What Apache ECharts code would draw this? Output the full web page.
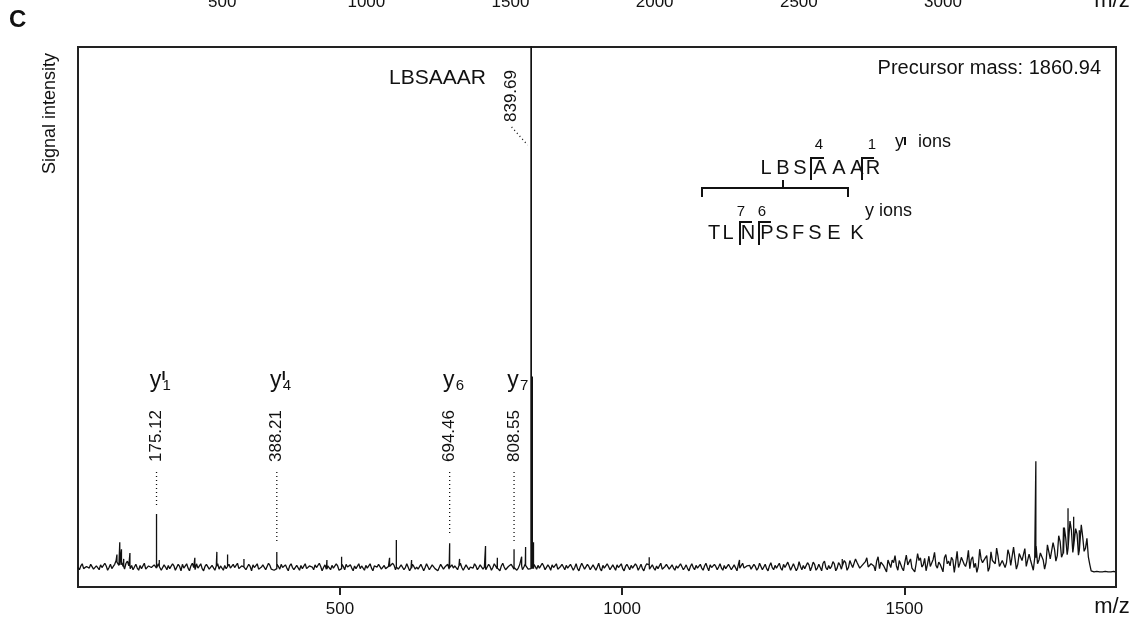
<!DOCTYPE html>
<html>
<head>
<meta charset="utf-8">
<script src="https://cdn.jsdelivr.net/npm/echarts@6/dist/echarts.min.js"></script>
<style>
html, body { margin: 0; padding: 0; background: #fff; }
#main { width: 1141px; height: 619px; }
</style>
</head>
<body>
<div id="main"></div>
<script>
// noise floor, read every 5 m/z starting at 36 (intensity in % of plot height)
const mzStart = 36
const mzStep = 5
const noise = [
    3.6,3.9,3.4,3.8,3.5,4.0,3.6,3.7,4.1,3.5,3.9,3.6,3.4,4.2,4.6,4.1,3.8,4.4,3.9,4.0,
    3.7,3.5,4.0,3.6,3.3,3.9,3.6,4.1,3.5,3.8,3.4,3.7,4.0,3.6,3.9,3.3,3.8,4.2,3.6,3.5,
    3.9,3.6,4.3,3.7,3.4,3.8,4.1,3.5,3.7,3.9,3.3,3.6,4.0,3.8,3.5,4.2,3.6,3.4,3.9,3.7,
    3.5,3.8,4.1,3.6,3.3,3.7,3.9,3.5,4.0,3.6,3.4,3.8,4.2,3.7,3.5,3.9,3.6,3.3,3.8,4.0,
    3.6,3.4,3.9,3.7,4.1,3.5,3.8,3.6,3.3,3.7,4.0,3.6,3.9,3.4,3.8,4.2,3.6,3.5,3.9,3.7,
    3.4,3.8,4.0,3.6,3.5,3.9,3.7,4.3,3.6,3.4,3.8,3.6,4.0,3.7,3.3,3.9,3.6,4.1,3.5,3.8,
    3.7,3.4,3.9,3.6,4.0,3.5,3.8,3.6,3.3,3.9,3.7,4.2,3.6,3.5,3.8,4.0,3.6,3.4,3.9,3.7,
    3.5,3.9,3.6,4.1,3.7,3.4,3.8,3.6,4.0,3.5,3.9,3.7,3.3,3.8,4.2,3.6,3.5,3.9,3.7,4.0,
    3.6,3.4,3.8,4.0,3.6,3.9,3.5,3.7,4.1,3.6,3.3,3.8,3.7,4.0,3.5,3.9,3.6,3.4,3.8,4.2,
    3.6,3.8,3.5,3.9,3.7,3.4,4.0,3.6,3.8,3.5,3.9,4.1,3.6,3.4,3.8,3.7,4.0,3.5,3.9,3.6,
    3.4,3.8,4.1,3.6,3.5,3.9,3.7,3.3,3.8,4.0,3.6,3.5,3.9,3.7,4.2,3.6,3.4,3.8,3.6,4.0,
    3.7,3.5,3.9,3.6,4.1,3.4,3.8,3.7,3.5,4.0,3.6,3.9,3.4,3.8,4.2,3.6,3.5,3.9,4.0,3.6,
    3.8,3.5,4.1,3.7,3.4,3.9,3.6,4.0,3.8,3.5,4.2,3.6,3.9,3.7,4.3,3.5,3.8,4.0,3.6,4.1,
    3.7,4.2,3.5,3.9,4.4,3.6,4.0,3.8,4.3,3.5,4.1,3.9,4.5,
    3.6,4.2,3.8,4.6,3.5,4.1,4.7,3.7,4.3,3.9,4.8,3.4,4.4,4.0,5.0,3.6,4.5,3.9,4.9,3.5,
    4.6,4.1,5.2,3.6,4.4,4.9,3.7,5.3,4.2,3.8,5.1,4.0,4.6,3.5,5.4,4.3,3.9,5.0,4.5,3.6,
    5.5,4.2,4.8,3.4,5.6,4.4,3.8,5.2,4.6,5.8,3.6,4.9,4.3,5.7,3.7,5.1,4.5,6.0,3.9,5.3,
    4.2,5.9,4.6,3.8,6.1,4.9,5.4,4.3,6.3,5.0,4.5,6.5,
    5.2,7.0,5.8,8.4,6.2,9.0,7.1,10.5,7.6,9.8,6.8,9.3,7.2,5.6,
    3.0,2.8,2.9,2.8,2.8,2.9,2.8,2.8,2.9
]
// in-between readings (2.5 m/z after each value above), where the jitter swings widest
const noiseMid = [
    3.2,4.3,3.1,4.0,4.2,3.3,3.9,3.2,3.6,4.4,3.1,4.2,3.8,4.9,4.0,4.5,3.3,4.8,3.4,3.2,
    4.2,3.1,3.4,4.4,3.0,4.1,3.3,3.8,4.3,3.1,4.1,3.2,3.4,4.3,3.1,4.2,3.0,3.5,4.3,3.0,
    4.4,3.2,3.5,4.3,3.0,4.2,3.3,4.0,3.1,4.3,3.9,3.1,3.4,4.2,3.2,3.6,4.4,3.1,4.1,3.2,
    4.2,3.0,3.6,4.3,3.2,4.1,3.2,4.4,3.3,3.1,4.2,3.3,3.6,4.1,3.0,4.3,3.2,4.0,3.1,3.4,
    4.3,3.1,4.2,3.2,3.6,4.4,3.0,4.1,3.9,3.2,3.5,4.3,3.1,4.2,3.2,3.7,4.1,3.0,3.4,4.3,
    3.9,3.1,3.5,4.3,3.0,3.6,4.2,3.3,4.0,3.1,3.5,4.4,3.2,3.3,4.1,3.2,4.3,3.0,4.2,3.3,
    3.3,4.2,3.0,4.3,3.2,4.1,3.4,3.0,4.2,3.3,3.5,3.3,4.1,3.9,3.2,4.4,3.1,4.1,3.2,3.4,
    4.3,3.2,4.1,3.3,3.2,4.2,3.1,4.3,3.4,3.0,4.4,3.2,3.8,4.2,3.3,3.1,4.1,3.2,4.3,3.3,
    3.1,4.2,3.3,3.5,4.4,3.2,4.1,3.1,3.6,4.3,3.1,4.2,3.2,3.5,4.2,3.1,4.3,3.0,4.4,3.3,
    4.2,3.2,4.1,3.1,4.4,3.0,3.5,4.3,3.2,4.1,3.1,3.6,4.3,3.0,4.2,3.2,3.5,4.3,3.1,4.2,
    3.0,4.3,3.3,4.1,3.1,3.4,4.4,3.0,4.2,3.3,4.1,3.1,3.5,4.3,3.2,4.1,3.0,4.3,3.2,3.5,
    4.2,3.1,4.4,3.0,3.6,4.2,3.2,4.3,3.1,3.4,4.2,3.2,4.1,3.0,3.5,4.4,3.2,4.1,3.3,4.2,
    3.1,4.4,3.2,4.2,3.0,4.5,3.2,3.5,4.4,3.1,3.6,4.6,3.1,4.3,3.0,4.7,3.2,3.4,4.5,3.0,
    4.6,3.1,4.2,3.0,4.8,3.2,3.4,4.7,3.0,4.5,3.3,4.9,3.1,
    4.9,3.6,5.2,4.4,3.3,3.9,5.4,3.4,4.2,3.0,5.6,4.6,3.9,2.8,5.3,5.0,5.8,3.1,4.2,3.0,
    5.9,4.3,3.5,2.8,6.2,5.4,4.1,3.0,5.7,3.9,6.4,3.5,4.2,2.8,6.0,4.8,5.5,2.7,6.6,4.4,
    5.3,3.8,6.8,5.1,3.6,2.7,7.0,4.5,5.4,2.9,6.5,5.2,7.2,3.8,4.9,3.6,6.9,4.0,7.4,3.3,
    6.2,4.9,7.1,3.6,5.0,3.1,7.6,5.0,6.4,3.3,7.8,5.2,
    8.2,4.8,9.5,5.5,11.0,6.0,12.2,6.4,10.8,5.9,11.5,6.6,9.0,4.2,
    2.7,2.9,2.8,2.7,2.9,2.8,2.7,2.8,2.8
]
// single peaks [m/z, intensity]
const peaks = [
    [105, 6.0], [110, 8.3], [113, 7.0], [117, 5.2], [128, 6.3], [175.12, 13.5], [180, 5.0],
    [243, 5.4], [282, 6.5], [301, 6.0], [330, 5.2], [388.21, 6.5], [477, 5.0], [503, 5.6],
    [588, 5.4], [600, 8.7], [627, 5.0], [694.46, 8.1], [712, 5.2], [758, 7.6], [779, 5.4],
    [808.55, 7.0], [822, 5.6], [829, 7.4], [838.5, 130], [839.2, 125], [841, 39], [843, 8.3],
    [1048, 5.5], [1208, 5.0], [1390, 5.2], [1733, 23.3], [1782, 11.0], [1790, 14.6],
    [1800, 13.0], [1810, 10.5]
]
// annotated fragment ions
const ionMz = [175.12, 388.21, 694.46, 808.55]
const ionSub = ['1', '4', '6', '7']
const ionPrime = [true, true, false, false]
const precursorMz = 839.69
const xTicks = [500, 1000, 1500]
const topTicks = [500, 1000, 1500, 2000, 2500, 3000]

const FONT = "'Liberation Sans', Arial, sans-serif"
const INK = '#111'

// merge the noise floor and the stick peaks into one trace
const trace = []
noise.forEach((v, i) => {
    trace.push([mzStart + i * mzStep, v])
    trace.push([mzStart + i * mzStep + mzStep / 2, noiseMid[i]])
})
peaks.forEach(p => {
    const base = noise[Math.min(noise.length - 1, Math.round((p[0] - mzStart) / mzStep))]
    trace.push([p[0] - 0.01, base], [p[0], p[1]], [p[0] + 0.01, base])
})
trace.sort((a, b) => a[0] - b[0])

const chart = echarts.init(document.getElementById('main'))

const option = {
    animation: false,
    backgroundColor: '#fff',
    grid: [
        { left: 78, right: 25, top: 47, bottom: 32, show: true, borderColor: '#222', borderWidth: 2, outerBoundsMode: 'none' },
        { left: 78, right: 25, top: -61, height: 50, outerBoundsMode: 'none' }
    ],
    xAxis: [
        {
            type: 'value', gridIndex: 0, min: 36, max: 1875,
            axisLine: { show: true, lineStyle: { color: '#222', width: 2 } },
            axisTick: { show: true, customValues: xTicks, length: 8, lineStyle: { color: '#222', width: 2 } },
            axisLabel: { customValues: xTicks, fontSize: 17, fontFamily: FONT, color: INK, margin: 14, formatter: v => String(v) },
            splitLine: { show: false }
        },
        {
            type: 'value', gridIndex: 1, min: 0, max: 3600,
            axisLine: { show: false },
            axisTick: { show: false },
            axisLabel: { customValues: topTicks, fontSize: 17, fontFamily: FONT, color: INK, margin: 5, formatter: v => String(v) },
            splitLine: { show: false }
        }
    ],
    yAxis: [
        { type: 'value', gridIndex: 0, min: 0, max: 100, show: false, splitLine: { show: false } },
        { type: 'value', gridIndex: 1, show: false }
    ],
    series: [{
        type: 'line',
        data: trace,
        showSymbol: false,
        clip: true,
        lineStyle: { color: INK, width: 1.3 }
    }]
}
chart.setOption(option)

const px = mz => chart.convertToPixel({ xAxisIndex: 0 }, mz)

const txt = (text, x, y, size, align, extra) => Object.assign({
    type: 'text', x: x, y: y,
    style: { text: text, font: size + 'px ' + FONT, fill: INK, textAlign: align || 'center', textVerticalAlign: 'middle' }
}, extra || {})
const seg = (x1, y1, x2, y2, w, dash) => ({
    type: 'line', shape: { x1: x1, y1: y1, x2: x2, y2: y2 },
    style: { stroke: INK, lineWidth: w || 2, lineDash: dash || null }
})
const poly = (pts) => ({ type: 'polyline', shape: { points: pts }, style: { stroke: INK, lineWidth: 2, fill: null } })

const g = []
// panel letter and leftovers of the panel above
g.push({ type: 'text', x: 9, y: 20, style: { text: 'C', font: 'bold 24px ' + FONT, fill: INK, textVerticalAlign: 'middle' } })
g.push(txt('m/z', 1112, 1, 22))
g.push(txt('m/z', 1112, 607, 22))
g.push(txt('Signal intensity', 50, 174, 18, 'left', { rotation: Math.PI / 2 }))
g.push(txt('Precursor mass: 1860.94', 1101, 68, 20, 'right'))

// fragment ion labels
ionMz.forEach((mz, i) => {
    const x = px(mz)
    g.push(txt(mz.toFixed(2), x, 462, 17, 'left', { rotation: Math.PI / 2 }))
    g.push(txt('y', x - 1, 381, 23))
    g.push(txt(ionSub[i], x + 6, 386, 15, 'left'))
    if (ionPrime[i]) g.push(seg(x + 7, 371, x + 7, 380, 2))
    const peakTop = chart.convertToPixel({ gridIndex: 0 }, [mz, peaks.find(p => p[0] === mz)[1]])[1]
    g.push(seg(x, 472, x, peakTop - 8, 1.3, [1, 3]))
})

// precursor peak label
const xp = px(precursorMz)
g.push(txt('839.69', xp - 20, 122, 17, 'left', { rotation: Math.PI / 2 }))
g.push(seg(xp - 20, 127, xp - 4, 145, 1.3, [1, 3]))
g.push(txt('LBSAAAR', 486, 78, 21, 'right'))

// sequence diagram
const row1 = [['L', 766], ['B', 783], ['S', 800], ['A', 820], ['A', 839], ['A', 857], ['R', 873]]
const row2 = [['T', 714], ['L', 728], ['N', 748], ['P', 767], ['S', 782], ['F', 798], ['S', 815], ['E', 834], ['K', 857]]
row1.forEach(r => g.push(txt(r[0], r[1], 168, 20)))
row2.forEach(r => g.push(txt(r[0], r[1], 233, 20)))
g.push(poly([[811, 180], [811, 158], [824, 158]]))
g.push(poly([[862, 180], [862, 158], [874, 158]]))
g.push(poly([[740, 245], [740, 222], [752, 222]]))
g.push(poly([[759, 245], [759, 222], [771, 222]]))
g.push(poly([[702, 197], [702, 188], [848, 188], [848, 197]]))
g.push(seg(783, 180, 783, 188))
g.push(txt('4', 819, 145, 15))
g.push(txt('1', 872, 145, 15))
g.push(txt('y', 895, 142, 18, 'left'))
g.push(seg(905, 137, 905, 145))
g.push(txt('ions', 918, 142, 18, 'left'))
g.push(txt('7', 741, 212, 15))
g.push(txt('6', 762, 212, 15))
g.push(txt('y ions', 865, 211, 18, 'left'))

chart.setOption({ graphic: { elements: g } })
</script>
</body>
</html>
